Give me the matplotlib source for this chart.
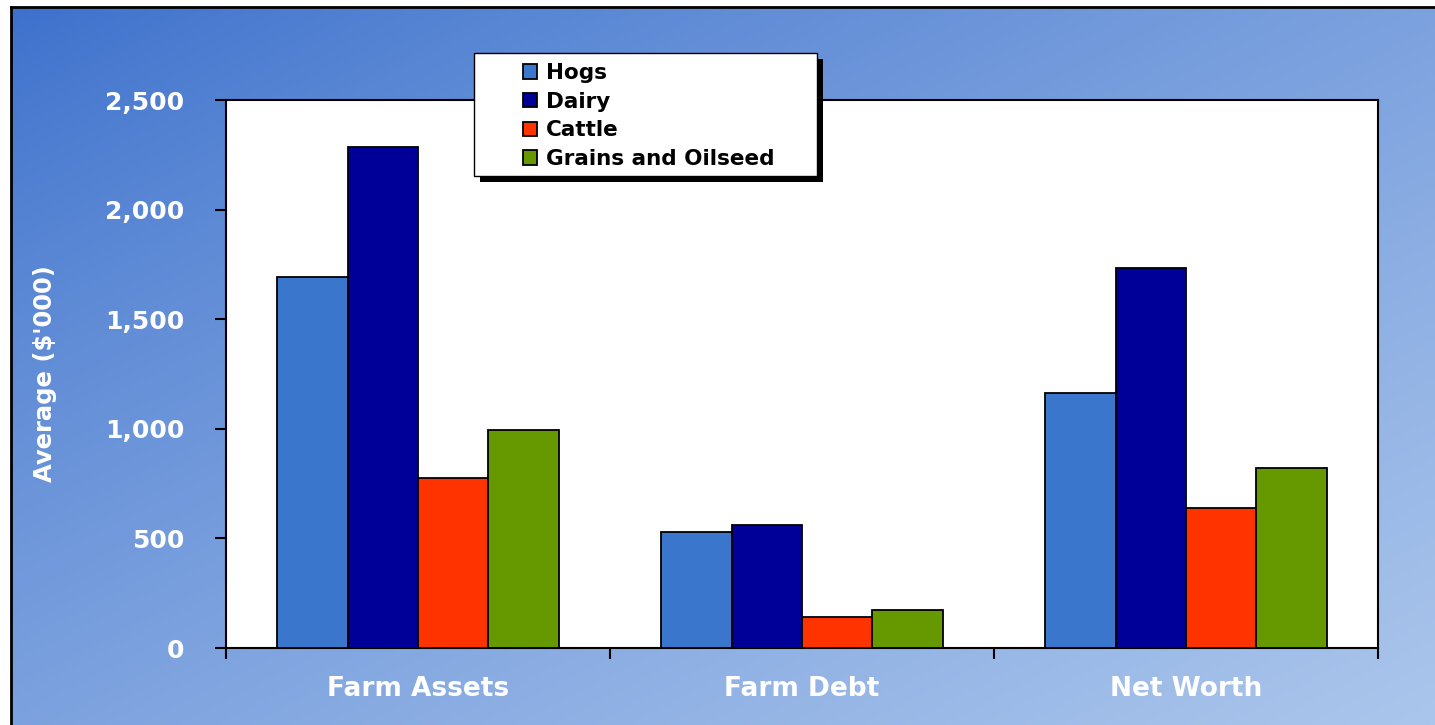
import numpy as np
import matplotlib
matplotlib.use("Agg")
import matplotlib.pyplot as plt
from matplotlib.patches import Rectangle

# chart data
categories = ["Farm Assets", "Farm Debt", "Net Worth"]
series = ["Hogs", "Dairy", "Cattle", "Grains and Oilseed"]
hogs = [1692, 529, 1163]
dairy = [2286, 561, 1734]
cattle = [776, 141, 639]
grains = [995, 173, 821]
colors = ["#3a76cc", "#000099", "#ff3300", "#669900"]
yticks = [0, 500, 1000, 1500, 2000, 2500]

plt.rcParams['font.family'] = ['DejaVu Sans']

W, H = 1435, 725
fig = plt.figure(figsize=(W / 100, H / 100), dpi=100)
fig.patch.set_facecolor("white")

# gradient background with a black border on left and top
bg = fig.add_axes([11 / W, 0, 1 - 11 / W, 1 - 7 / H])
xx, yy = np.meshgrid(np.linspace(0, 1, 300), np.linspace(0, 1, 150))
t = ((xx + yy) / 2) ** 0.8
c0 = np.array([0x3c, 0x70, 0xcc]) / 255
c1 = np.array([0xab, 0xc6, 0xec]) / 255
img = c0[None, None, :] * (1 - t[..., None]) + c1[None, None, :] * t[..., None]
bg.imshow(img, aspect="auto", extent=[0, 1, 1, 0])
bg.set_xlim(0, 1)
bg.set_ylim(1, 0)
bg.set_xticks([])
bg.set_yticks([])
for s in ["right", "bottom"]:
    bg.spines[s].set_visible(False)
for s in ["left", "top"]:
    bg.spines[s].set_linewidth(2)
    bg.spines[s].set_color("black")

ax = fig.add_axes([226 / W, (H - 648) / H, (1378 - 226) / W, (648 - 100) / H])
ax.set_facecolor("white")

x = np.arange(len(categories))
bw = 0.183
data = [hogs, dairy, cattle, grains]
for i, (vals, col, name) in enumerate(zip(data, colors, series)):
    ax.bar(x + (i - 1.5) * bw, vals, bw, color=col, edgecolor="black",
           linewidth=1.3, label=name, zorder=3)

ax.set_xlim(-0.5, len(categories) - 0.5)
ax.set_ylim(0, 2500)
ax.set_yticks(yticks)
ax.set_yticklabels([f"{v:,}" for v in yticks])
ax.set_xticks(x)
ax.set_xticklabels(categories)
ax.set_xticks(np.arange(len(categories) + 1) - 0.5, minor=True)
ax.tick_params(axis="x", which="major", length=0, pad=20, labelsize=19,
               labelcolor="white")
ax.tick_params(axis="x", which="minor", length=8, width=1.5, direction="out")
ax.tick_params(axis="y", length=8, width=1.5, direction="out", pad=22,
               labelsize=18, labelcolor="white")
for lab in ax.get_xticklabels() + ax.get_yticklabels():
    lab.set_fontweight("bold")
for s in ax.spines.values():
    s.set_linewidth(1.5)
    s.set_color("black")

ax.set_ylabel("Average ($'000)", color="white", fontsize=17.5, fontweight="bold")
ax.yaxis.set_label_coords(-0.1467, 0.5)

# legend box with a hard shadow
lx, ly, lw, lh = 474, 53, 343, 123
fig.add_artist(Rectangle(((lx + 6) / W, (H - ly - lh - 6) / H), lw / W, lh / H,
                         transform=fig.transFigure, facecolor="black",
                         edgecolor="none", zorder=4))
fig.add_artist(Rectangle((lx / W, (H - ly - lh) / H), lw / W, lh / H,
                         transform=fig.transFigure, facecolor="white",
                         edgecolor="black", linewidth=1, zorder=5))
leg = fig.legend(loc="upper left", bbox_to_anchor=(508 / W, 1 - 48 / H),
                 frameon=False, prop={"weight": "bold", "size": 15.5},
                 handlelength=0.65, handleheight=0.65, handletextpad=0.4,
                 labelspacing=0.4, borderpad=0.2)
leg.set_zorder(6)

fig.savefig("out.png", dpi=100)
